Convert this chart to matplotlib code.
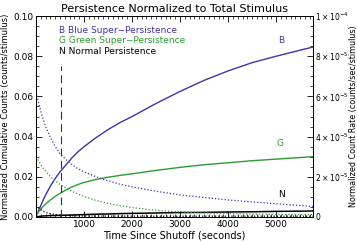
import matplotlib
matplotlib.use("Agg")
import matplotlib.pyplot as plt
from matplotlib.ticker import MultipleLocator, FixedLocator

# time since shutoff (s)
t = [0, 50, 100, 150, 200, 300, 400, 500, 625, 750, 875, 1000, 1250, 1500, 1750, 2000,
     2500, 3000, 3500, 4000, 4500, 5000, 5500, 5770]

# cumulative counts (counts/stimulus)
blue_cum = [0, 0.003, 0.0058, 0.0085, 0.011, 0.0155, 0.0192, 0.0225, 0.026, 0.0295, 0.0325,
            0.035, 0.0395, 0.0435, 0.047, 0.050,
            0.0565, 0.0625, 0.068, 0.0727, 0.0768, 0.080, 0.083, 0.0846]
green_cum = [0.001, 0.0025, 0.004, 0.0053, 0.0065, 0.0085, 0.0103, 0.0118, 0.0135, 0.0150, 0.0162,
             0.0172, 0.0187, 0.0198, 0.0207, 0.0215,
             0.0232, 0.0247, 0.026, 0.027, 0.028, 0.0288, 0.0296, 0.030]
normal_cum = [0, 0.0002, 0.0004, 0.0005, 0.0006, 0.0007, 0.00075, 0.0008, 0.0009, 0.001, 0.0011,
              0.0012, 0.0014, 0.0015, 0.0017, 0.0018,
              0.002, 0.0022, 0.0023, 0.0025, 0.0026, 0.0028, 0.0029, 0.003]

# count rate (counts/sec/stimulus)
blue_rate = [6.2e-5, 5.7e-5, 5.25e-5, 4.85e-5, 4.5e-5, 3.95e-5, 3.5e-5, 3.15e-5, 2.85e-5, 2.6e-5, 2.4e-5,
             2.25e-5, 2.0e-5, 1.8e-5, 1.63e-5, 1.5e-5,
             1.28e-5, 1.1e-5, 9.7e-6, 8.5e-6, 7.5e-6, 6.6e-6, 5.7e-6, 5.2e-6]
green_rate = [3.0e-5, 2.8e-5, 2.6e-5, 2.42e-5, 2.27e-5, 2.0e-5, 1.8e-5, 1.62e-5, 1.44e-5, 1.28e-5, 1.14e-5,
              1.02e-5, 8.2e-6, 6.8e-6, 5.6e-6, 4.7e-6,
              3.3e-6, 2.5e-6, 2.0e-6, 1.7e-6, 1.5e-6, 1.3e-6, 1.2e-6, 1.2e-6]
normal_rate = [6e-6, 4.6e-6, 3.6e-6, 2.9e-6, 2.3e-6, 1.6e-6, 1.2e-6, 9e-7, 7e-7, 6e-7, 5.5e-7,
               5e-7, 4.7e-7, 4.5e-7, 4.3e-7, 4.2e-7,
               4e-7, 4e-7, 4e-7, 4e-7, 4e-7, 4e-7, 4e-7, 4e-7]

shutoff_mark = 520
right_ticks = [0, 2e-5, 4e-5, 6e-5, 8e-5, 1e-4]
right_labels = ['0', r'$2\times10^{-5}$', r'$4\times10^{-5}$', r'$6\times10^{-5}$',
                r'$8\times10^{-5}$', r'$1\times10^{-4}$']

blue = '#3f34a3'
green = '#2f9a35'

fig = plt.figure(figsize=(3.57, 2.43), dpi=100)
ax = fig.add_axes([0.101, 0.107, 0.776, 0.827])
ax2 = ax.twinx()

ax.plot(t, blue_cum, color=blue, lw=1.0)
ax.plot(t, green_cum, color=green, lw=1.0)
ax.plot(t, normal_cum, color='black', lw=1.1)

dots = (0, (1, 1.6))
ax2.plot(t, blue_rate, color=blue, lw=0.9, ls=dots)
ax2.plot(t, green_rate, color=green, lw=0.9, ls=dots)
ax2.plot(t, normal_rate, color='black', lw=0.9, ls=dots)

ax.plot([shutoff_mark, shutoff_mark], [0, 0.075], color='#333333', lw=0.8, ls=(0, (7, 4)))

ax.set_xlim(0, 5770)
ax.set_ylim(0, 0.1)
ax2.set_ylim(0, 1e-4)

fs = 6.5
ax.set_yticks([0, 0.02, 0.04, 0.06, 0.08, 0.10])
ax.set_yticklabels(['0.00', '0.02', '0.04', '0.06', '0.08', '0.10'], fontsize=fs)
ax.set_xticks([1000, 2000, 3000, 4000, 5000])
ax.set_xticklabels(['1000', '2000', '3000', '4000', '5000'], fontsize=fs)
ax.xaxis.set_minor_locator(MultipleLocator(100))
ax.yaxis.set_minor_locator(MultipleLocator(0.005))
ax.tick_params(which='both', direction='in', top=True, right=False, pad=2)
ax.tick_params(which='major', length=4, width=0.6)
ax.tick_params(which='minor', length=2, width=0.5)

ax2.yaxis.set_major_locator(FixedLocator(right_ticks))
ax2.set_yticklabels(right_labels, fontsize=5.5)
ax2.yaxis.set_minor_locator(MultipleLocator(5e-6))
ax2.tick_params(which='both', direction='in', pad=1.5)
ax2.tick_params(which='major', length=4, width=0.6)
ax2.tick_params(which='minor', length=2, width=0.5)

for a in (ax, ax2):
    for s in a.spines.values():
        s.set_linewidth(0.7)

ax.set_title('Persistence Normalized to Total Stimulus', fontsize=8, pad=3)
ax.set_xlabel('Time Since Shutoff (seconds)', fontsize=fs + 0.5, labelpad=1)
ax.set_ylabel('Normalized Cumulative Counts (counts/stimulus)', fontsize=6, labelpad=2)
ax2.set_ylabel('Normalized Count Rate (counts/sec/stimulus)', fontsize=5.8, labelpad=0)

ax.text(486, 0.0927, 'B Blue Super\u2212Persistence', color=blue, fontsize=fs, va='center')
ax.text(486, 0.0877, 'G Green Super\u2212Persistence', color=green, fontsize=fs, va='center')
ax.text(486, 0.0826, 'N Normal Persistence', color='black', fontsize=fs, va='center')

ax.text(5104, 0.0876, 'B', color=blue, fontsize=fs, ha='center', va='center')
ax.text(5083, 0.0368, 'G', color=green, fontsize=fs, ha='center', va='center')
ax.text(5104, 0.011, 'N', color='black', fontsize=fs, ha='center', va='center')

fig.savefig('out.png', dpi=100)
